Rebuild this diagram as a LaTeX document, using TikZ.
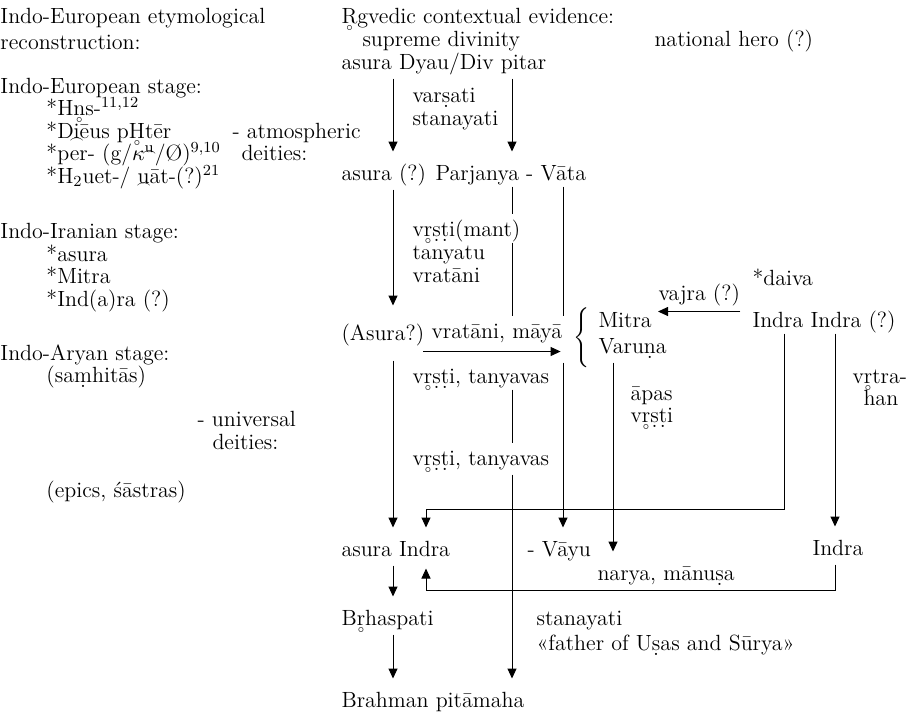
\documentclass[tikz,border=0pt]{standalone}
\usepackage{tikz}
\usetikzlibrary{arrows.meta}
% marks below a letter
\newcommand\dotb[1]{\leavevmode\setbox0\hbox{#1}\copy0\kern-\wd0\hbox to\wd0{\hss\raisebox{-0.55ex}[0pt][0pt]{.}\hss}}
\newcommand\ringb[1]{\leavevmode\setbox0\hbox{#1}\copy0\kern-\wd0\hbox to\wd0{\hss\raisebox{-0.8ex}[0pt][0pt]{\fontsize{5}{5}\selectfont$\circ$}\hss}}
\newcommand\brevb[1]{\leavevmode\setbox0\hbox{#1}\copy0\kern-\wd0\hbox to\wd0{\hss\raisebox{-0.5ex}[0pt][0pt]{\fontsize{6}{6}\selectfont$\frown$}\hss}}

\begin{document}
\begin{tikzpicture}[x=0.5pt, y=-0.5pt, line width=0.5pt, font=\fontsize{11}{13}\selectfont,
    txt/.style={anchor=base west, inner sep=0pt, text height=7.5pt, text depth=2pt},
    arr/.style={-{Triangle[width=4.5pt,length=5pt]}, shorten <=2.5pt, shorten >=6.5pt},
    seg/.style={shorten <=1pt, shorten >=3.5pt}]
    \useasboundingbox (0,0) rectangle (914,714);

    % Stages
    \node[txt] (ieHead) at (0,23) {Indo-European etymological};
    \node[txt] (ieHeadB) at (0,49) {reconstruction:};
    \node[txt] (ieStage) at (0,93) {Indo-European stage:};
    \node[txt] (ieHns) at (46,115) {*H\ringb{n}s-\textsuperscript{11,12}};
    \node[txt] (ieDieus) at (46,138) {*D\brevb{i}ēus p\ringb{H}tēr};
    \node[txt] (ieAtmo) at (232,138) {- atmospheric};
    \node[txt] (iePer) at (46,160) {*per- (g/$\kappa$\textsuperscript{\brevb{u}}/Ø)\textsuperscript{9,10}};
    \node[txt] (ieDeit) at (241,160) {deities:};
    \node[txt] (ieHuet) at (46,183) {*H\textsubscript{2}uet-/ \brevb{u}āt-(?)\textsuperscript{21}};
    \node[txt] (iiStage) at (0,238) {Indo-Iranian stage:};
    \node[txt] (iiAsura) at (46,261) {*asura};
    \node[txt] (iiMitra) at (46,283) {*Mitra};
    \node[txt] (iiIndra) at (46,306) {*Ind(a)ra (?)};
    \node[txt] (iaStage) at (0,360) {Indo-Aryan stage:};
    \node[txt] (iaSamh) at (46,382) {(sa\dotb{m}hitās)};
    \node[txt] (iaUniv) at (197,426) {- universal};
    \node[txt] (iaDeit) at (212,449) {deities:};
    \node[txt] (iaEpics) at (46,497) {(epics, śāstras)};

    % Rgvedic evidence
    \node[txt] (rvHead) at (341,23) {\ringb{R}gvedic contextual evidence:};
    \node[txt] (supreme) at (362,46) {supreme divinity};
    \node[txt] (hero) at (654,46) {national hero (?)};
    \node[txt] (dyau) at (341,69) {asura Dyau/Div pitar};
    \node[txt] (varsati) at (412,102) {var\dotb{s}ati};
    \node[txt] (stanA) at (412,125) {stanayati};
    \node[txt] (parj) at (341,180) {asura (?) Parjanya - Vāta};
    \node[txt] (vrsmant) at (412,236) {v\ringb{r}\dotb{s}\dotb{t}i(mant)};
    \node[txt] (tanyatu) at (412,259) {tanyatu};
    \node[txt] (vratA) at (412,282) {vratāni};
    \node[txt] (asuraQ) at (341,340) {(Asura?)};
    \node[txt] (vratani) at (431,338) {vratāni, māyā};
    \node (brace) at (583,338) {$\left\{\vrule height 12pt depth 12pt width 0pt\right.$};
    \node[txt] (mitra) at (598,327) {Mitra};
    \node[txt] (varuna) at (598,353) {Varu\dotb{n}a};
    \node[txt] (daiva) at (752,285) {*daiva};
    \node[txt] (vajra) at (658,300) {vajra (?)};
    \node[txt] (indra) at (752,327) {Indra Indra (?)};
    \node[txt] (vt1) at (412,383) {v\ringb{r}\dotb{s}\dotb{t}i, tanyavas};
    \node[txt] (apas) at (630,400) {āpas};
    \node[txt] (vrsti) at (630,422) {v\ringb{r}\dotb{s}\dotb{t}i};
    \node[txt] (vrtra) at (852,383) {v\ringb{r}tra-};
    \node[txt] (han) at (863,405) {han};
    \node[txt] (vt2) at (412,465) {v\ringb{r}\dotb{s}\dotb{t}i, tanyavas};
    \node[txt] (asuraI) at (341,556) {asura Indra};
    \node[txt] (vayu) at (527,556) {- Vāyu};
    \node[txt] (indraB) at (812,555) {Indra};
    \node[txt] (narya) at (597,580) {narya, mānu\dotb{s}a};
    \node[txt] (brhas) at (341,625) {B\ringb{r}haspati};
    \node[txt] (stanB) at (536,625) {stanayati};
    \node[txt] (father) at (536,650) {«father of U\dotb{s}as and Sūrya»};
    \node[txt] (brahman) at (341,707) {Brahman pitāmaha};

    % columns and corners
    \coordinate (cA) at (393,0);
    \coordinate (cB) at (512,0);
    \coordinate (cC) at (563,0);
    \coordinate (cD) at (613,0);
    \coordinate (cE) at (784,0);
    \coordinate (cF) at (835,0);
    \coordinate (jA) at (426,509);
    \coordinate (jB) at (426,590);
    \coordinate (vmTail) at ([xshift=-4pt,yshift=-4.5pt]vratani.south west);
    \coordinate (vjTail) at ([yshift=-3.5pt]vajra.south east);

    % asura line
    \draw[arr] (dyau.south -| cA) -- (parj.north -| cA);
    \draw[arr, shorten >=9.5pt] (parj.south -| cA) -- (asuraQ.north -| cA);
    \draw[arr, shorten <=8pt] (asuraQ.south -| cA) -- (asuraI.north -| cA);
    \draw[arr] (asuraI.south -| cA) -- (brhas.north -| cA);
    \draw[arr] (brhas.south -| cA) -- (brahman.north -| cA);

    % Parjanya line
    \draw[arr] (dyau.south -| cB) -- (parj.north -| cB);
    \draw[seg] (parj.south -| cB) -- (vrsmant.north -| cB);
    \draw[seg] (vrsmant.south -| cB) -- (vratani.north -| cB);
    \draw[seg] (vt1.south -| cB) -- (vt2.north -| cB);
    \draw[arr] (vt2.south -| cB) -- (brahman.north -| cB);

    % Vata and Varuna
    \draw[seg] (parj.south -| cC) -- (vratani.north -| cC);
    \draw[arr] (varuna.south -| cC) -- (vayu.north -| cC);
    \draw[arr] (varuna.south -| cD) -- (narya.north -| cD);
    \draw[arr, shorten <=0pt, shorten >=3pt] (vmTail) -- (vmTail -| brace.west);

    % Indra
    \draw[arr, shorten <=0pt, shorten >=0pt] (vjTail) -- (vjTail -| vajra.west);
    \draw[arr, shorten <=1pt] (indra.south -| cE) |- (jA) -- (asuraI.north -| jA);
    \draw[arr, shorten <=1pt] (indra.south -| cF) -- (indraB.north -| cF);
    \draw[arr, shorten >=4pt] (indraB.south -| cF) |- (jB) -- (asuraI.south -| jB);
\end{tikzpicture}
\end{document}
